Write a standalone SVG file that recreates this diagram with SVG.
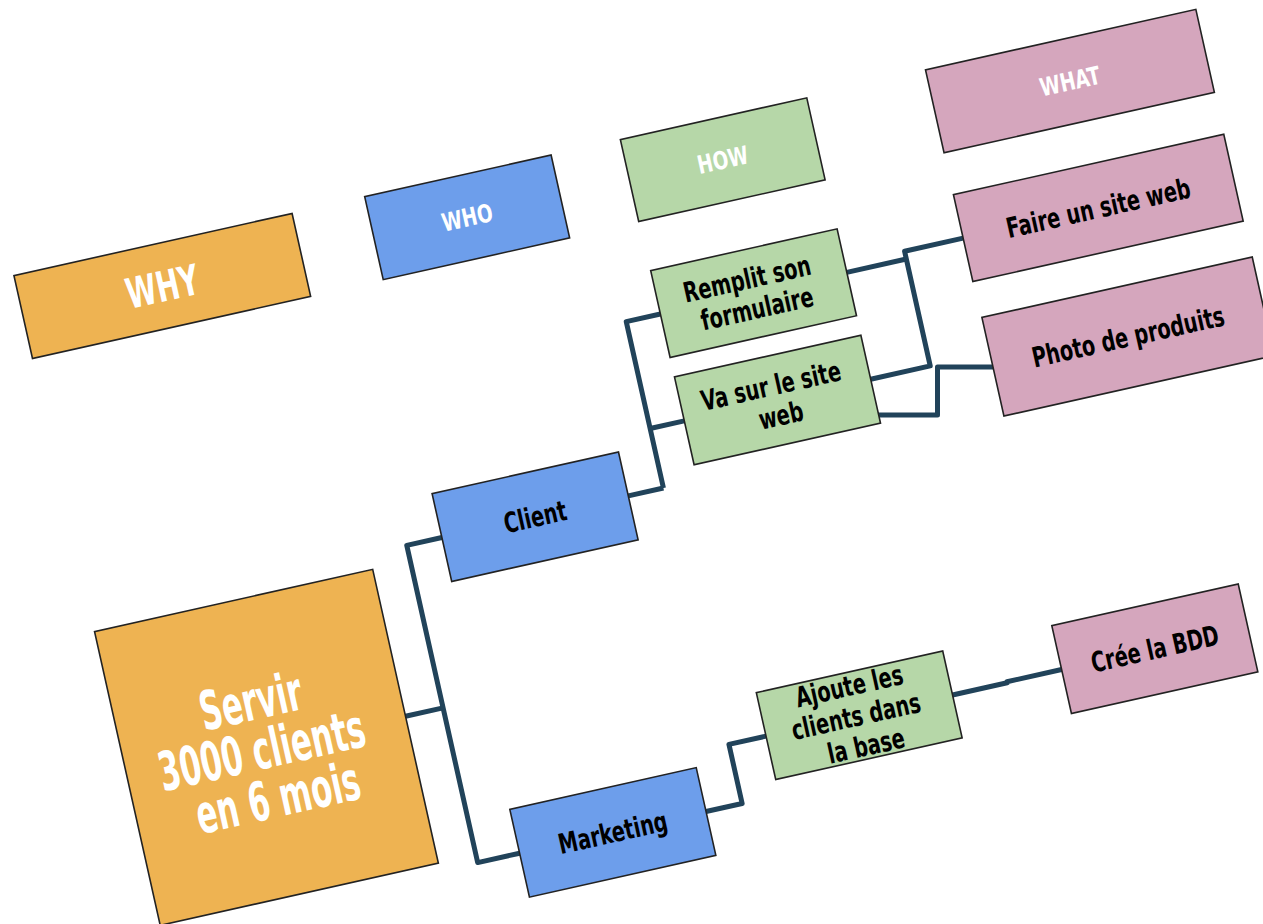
<svg xmlns="http://www.w3.org/2000/svg" width="1263" height="924" viewBox="0 0 1263 924">
  <style>
    .box { stroke: #222222; stroke-width: 1.6; }
    .why { fill: #EEB352; }
    .who { fill: #6D9EEB; }
    .how { fill: #B6D7A8; }
    .what { fill: #D5A6BD; }
    .lbl { font-family: 'DejaVu Sans Condensed', 'DejaVu Sans', sans-serif; font-weight: bold; text-anchor: middle; fill: #000000; }
    .white { fill: #FFFFFF; }
    .wire { fill: none; stroke: #21435A; stroke-width: 5; stroke-linejoin: round; stroke-linecap: butt; }
  </style>

  <rect width="1263" height="924" fill="#FFFFFF"/>

  <!-- connectors: the board is tilted by -12.6 degrees; one elbow is drawn level -->
  <g id="connectors">
    <g transform="rotate(-12.6)">
      <path class="wire" d="M 239.5 787.5 H 278"/>
      <path class="wire" d="M 314 621 H 278 V 946 H 321"/>
      <path class="wire" d="M 505 621 H 541"/>
      <path class="wire" d="M 576 450.5 H 541 V 621"/>
      <path class="wire" d="M 541 560 H 576"/>
      <path class="wire" d="M 767 450.5 H 828"/>
      <path class="wire" d="M 767 560 H 828 V 442.5 H 888"/>
      <path class="wire" d="M 512 946 H 549 V 885.5 H 587"/>
      <path class="wire" d="M 778 886 H 834 V 885 H 890"/>
    </g>
    <path class="wire" d="M 875 415 H 937.5 V 367 H 995"/>
  </g>

  <!-- text is narrowed with a horizontal scale about each box centre -->
  <g transform="rotate(-12.6)">
    <!-- column headers -->
    <g id="hdr-why">
      <rect class="box why" x="-46.5" y="272" width="285" height="85"/>
      <text class="lbl white" x="96" y="330" font-size="42" transform="matrix(0.73 0 0 1 25.92 0)">WHY</text>
    </g>
    <g id="hdr-who">
      <rect class="box who" x="313" y="271.5" width="191" height="85"/>
      <text class="lbl white" x="408.5" y="323" font-size="25" transform="matrix(0.82 0 0 1 73.53 0)">WHO</text>
    </g>
    <g id="hdr-how">
      <rect class="box how" x="575" y="271.5" width="191" height="84"/>
      <text class="lbl white" x="670.5" y="322.5" font-size="25" transform="matrix(0.82 0 0 1 120.69 0)">HOW</text>
    </g>
    <g id="hdr-what">
      <rect class="box what" x="888" y="270" width="277" height="85"/>
      <text class="lbl white" x="1026.5" y="321.5" font-size="25" transform="matrix(0.82 0 0 1 184.77 0)">WHAT</text>
    </g>

    <!-- goal -->
    <g id="node-goal">
      <rect class="box why" x="-45.5" y="637" width="285" height="301"/>
      <text class="lbl white" font-size="54" transform="matrix(0.63 0 0 1 35.89 0)">
        <tspan x="97" y="758">Servir</tspan>
        <tspan x="97" y="808">3000 clients</tspan>
        <tspan x="97" y="858">en 6 mois</tspan>
      </text>
    </g>

    <!-- who -->
    <g id="node-client">
      <rect class="box who" x="314" y="576" width="191" height="90"/>
      <text class="lbl" x="409.5" y="631" font-size="28" transform="matrix(0.77 0 0 1 94.19 0)">Client</text>
    </g>
    <g id="node-marketing">
      <rect class="box who" x="321" y="901" width="191" height="90"/>
      <text class="lbl" x="416.5" y="956" font-size="28" transform="matrix(0.77 0 0 1 95.8 0)">Marketing</text>
    </g>

    <!-- how -->
    <g id="node-formulaire">
      <rect class="box how" x="576" y="406" width="191" height="89"/>
      <text class="lbl" font-size="28" transform="matrix(0.77 0 0 1 154.45 0)">
        <tspan x="671.5" y="445">Remplit son</tspan>
        <tspan x="671.5" y="476">formulaire</tspan>
      </text>
    </g>
    <g id="node-visite">
      <rect class="box how" x="576" y="515" width="191" height="90"/>
      <text class="lbl" font-size="28" transform="matrix(0.77 0 0 1 154.45 0)">
        <tspan x="671.5" y="554.5">Va sur le site</tspan>
        <tspan x="671.5" y="585.5">web</tspan>
      </text>
    </g>
    <g id="node-ajoute">
      <rect class="box how" x="587" y="841" width="191" height="89"/>
      <text class="lbl" font-size="28" transform="matrix(0.77 0 0 1 156.98 0)">
        <tspan x="682.5" y="864.5">Ajoute les</tspan>
        <tspan x="682.5" y="895.5">clients dans</tspan>
        <tspan x="682.5" y="926.5">la base</tspan>
      </text>
    </g>

    <!-- what -->
    <g id="node-site">
      <rect class="box what" x="888" y="398" width="277" height="89"/>
      <text class="lbl" x="1026.5" y="452.5" font-size="28" transform="matrix(0.77 0 0 1 236.1 0)">Faire un site web</text>
    </g>
    <g id="node-photo">
      <rect class="box what" x="889" y="524" width="277" height="101"/>
      <text class="lbl" x="1027.5" y="584.5" font-size="28" transform="matrix(0.77 0 0 1 236.33 0)">Photo de produits</text>
    </g>
    <g id="node-bdd">
      <rect class="box what" x="890" y="840" width="191" height="90"/>
      <text class="lbl" x="985.5" y="895" font-size="28" transform="matrix(0.77 0 0 1 226.67 0)">Crée la BDD</text>
    </g>
  </g>
</svg>
